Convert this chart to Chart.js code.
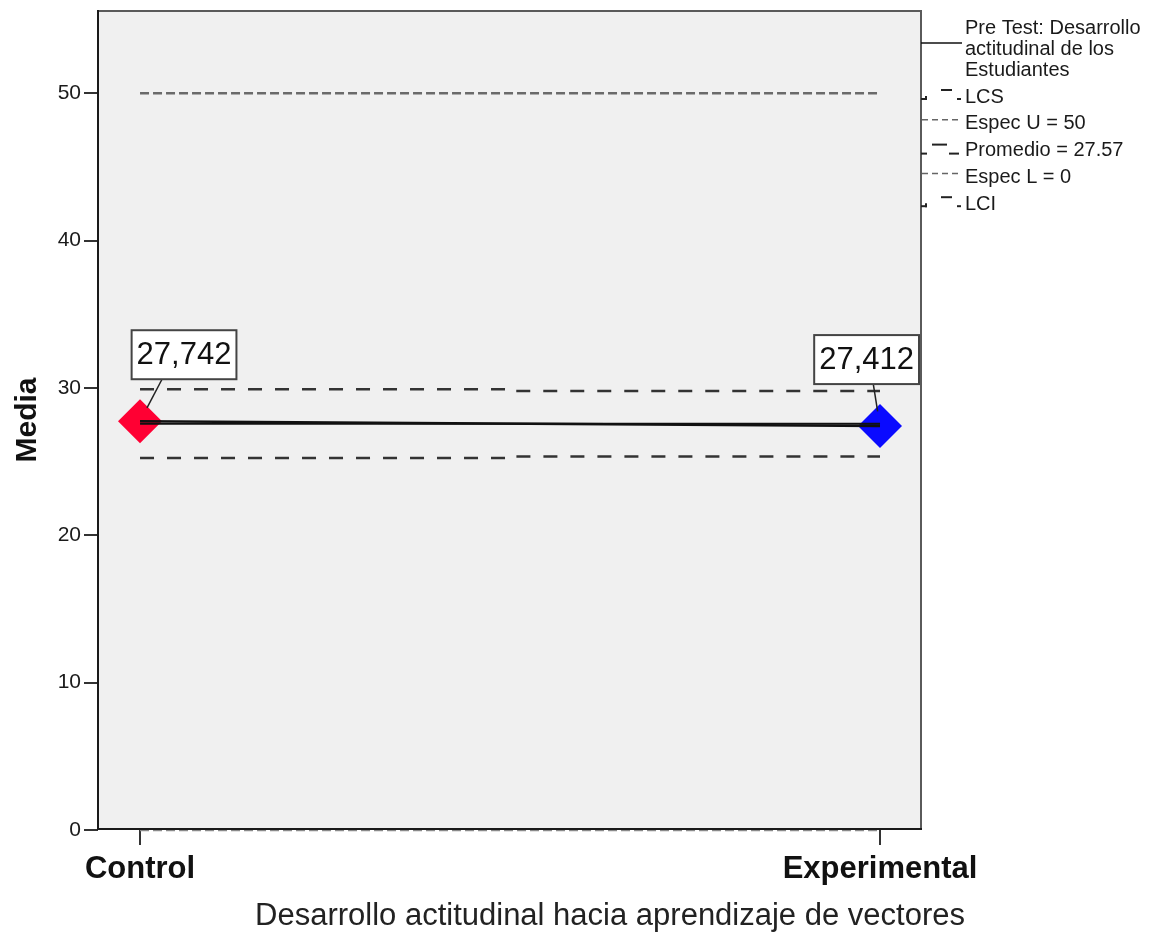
<!DOCTYPE html>
<html>
<head>
<meta charset="utf-8">
<script src="https://cdn.jsdelivr.net/npm/chart.js@4.4.1/dist/chart.umd.min.js"></script>
<style>
  html, body { margin: 0; padding: 0; background: #ffffff; }
  #wrap { width: 1166px; height: 932px; }
</style>
</head>
<body>
<div id="wrap"><canvas id="c" width="1166" height="932"></canvas></div>
<script>
// Group means and control-chart reference lines
const categories = ['Control', 'Experimental'];
const groupMeans = [27.742, 27.412];
const upperLimits = [29.92, 29.80];   // LCS
const lowerLimits = [25.24, 25.35];   // LCI
const centerLine = [27.57, 27.57];    // Promedio
const specUpper = [50, 50];
const specLower = [0, 0];
const yTicks = [0, 10, 20, 30, 40, 50];
const markerColors = ['#ff0033', '#0a0aff'];
const seriesName = ['Pre Test: Desarrollo', 'actitudinal de los', 'Estudiantes'];
const xTitle = 'Desarrollo actitudinal hacia aprendizaje de vectores';
const yTitle = 'Media';

const FONT = '"Liberation Sans", Arial, sans-serif';
const toPoints = arr => arr.map((v, i) => ({ x: i, y: v }));
const fmt = v => v.toFixed(3).replace('.', ',');

const legendEntries = [
  { text: 'LCS', kind: 'step' },
  { text: 'Espec U = ' + specUpper[0], kind: 'spec' },
  { text: 'Promedio = ' + centerLine[0], kind: 'mean' },
  { text: 'Espec L = ' + specLower[0], kind: 'spec' },
  { text: 'LCI', kind: 'step' }
];

function seg(ctx, x1, y1, x2, y2) {
  ctx.beginPath(); ctx.moveTo(x1, y1); ctx.lineTo(x2, y2); ctx.stroke();
}

const decorations = {
  id: 'decorations',
  beforeDraw(chart) {
    const { ctx, chartArea: a } = chart;
    ctx.save();
    ctx.fillStyle = '#f0f0f0';
    ctx.fillRect(a.left, a.top, a.right - a.left, a.bottom - a.top);
    ctx.strokeStyle = '#5a5a5a';
    ctx.lineWidth = 2;
    seg(ctx, a.left, a.top + 1, a.right, a.top + 1);
    seg(ctx, a.right, a.top, a.right, a.bottom);
    ctx.restore();
  },
  afterDatasetsDraw(chart) {
    const { ctx, chartArea: a } = chart;
    ctx.save();
    ctx.strokeStyle = '#1a1a1a';
    ctx.lineWidth = 2;
    seg(ctx, a.left, a.top, a.left, a.bottom);
    seg(ctx, a.left - 1, a.bottom - 1, a.right + 1, a.bottom - 1);
    ctx.restore();
  },
  afterDraw(chart) {
    const { ctx, chartArea: a, scales } = chart;
    ctx.save();

    // value labels with leader lines
    ctx.font = '31px ' + FONT;
    ctx.textBaseline = 'middle';
    ctx.textAlign = 'center';
    groupMeans.forEach((v, i) => {
      const px = scales.x.getPixelForValue(i);
      const py = scales.y.getPixelForValue(v);
      const txt = fmt(v);
      const w = ctx.measureText(txt).width + 10;
      const h = 49;
      let cx = px + 44;
      if (cx + w / 2 > a.right - 2) cx = a.right - 2 - w / 2;
      const left = cx - w / 2, top = py - 91;
      // leader
      const sx = (cx + px) / 2, sy = top + h;
      const dx = px - sx, dy = py - sy;
      const len = Math.hypot(dx, dy);
      const ex = px - dx / len * 15, ey = py - dy / len * 15;
      ctx.strokeStyle = '#222';
      ctx.lineWidth = 1.5;
      seg(ctx, sx, sy, ex, ey);
      ctx.fillStyle = '#ffffff';
      ctx.fillRect(left, top, w, h);
      ctx.strokeStyle = '#444';
      ctx.lineWidth = 2;
      ctx.strokeRect(left, top, w, h);
      ctx.fillStyle = '#111';
      ctx.fillText(txt, cx, top + h / 2 + 1);
    });

    // x axis title
    ctx.font = '31px ' + FONT;
    ctx.textAlign = 'center';
    ctx.textBaseline = 'alphabetic';
    ctx.fillStyle = '#222';
    ctx.fillText(xTitle, 610, 925);

    // legend
    const lx = 921, tx = 965;
    ctx.font = '20px ' + FONT;
    ctx.textAlign = 'left';
    ctx.textBaseline = 'middle';
    ctx.fillStyle = '#1a1a1a';
    seriesName.forEach((s, k) => ctx.fillText(s, tx, 28 + k * 21));
    ctx.strokeStyle = '#111';
    ctx.lineWidth = 1.5;
    seg(ctx, lx, 43, 962, 43);
    legendEntries.forEach((e, k) => {
      const cy = 97 + k * 26.8;
      ctx.fillStyle = '#1a1a1a';
      ctx.fillText(e.text, tx, cy);
      ctx.setLineDash([]);
      if (e.kind === 'step') {
        ctx.strokeStyle = '#222'; ctx.lineWidth = 2;
        seg(ctx, lx, cy + 2, 927, cy + 2);
        seg(ctx, 926, cy + 3, 926, cy - 1);
        seg(ctx, 941, cy - 7, 952, cy - 7);
        seg(ctx, 957, cy + 2, 961, cy + 2);
      } else if (e.kind === 'mean') {
        ctx.strokeStyle = '#222'; ctx.lineWidth = 2;
        seg(ctx, lx, cy + 3, 927, cy + 3);
        seg(ctx, 932, cy - 6, 947, cy - 6);
        seg(ctx, 949, cy + 3, 959, cy + 3);
      } else {
        ctx.strokeStyle = '#666'; ctx.lineWidth = 1.5;
        ctx.setLineDash([6, 4]);
        seg(ctx, lx + 1, cy - 4, 962, cy - 4);
        ctx.setLineDash([]);
      }
    });
    ctx.restore();
  }
};

const refLine = (data, color, width, dash, order, extra) => Object.assign({
  data: toPoints(data),
  borderColor: color,
  borderWidth: width,
  borderDash: dash,
  pointRadius: 0,
  fill: false,
  order: order
}, extra || {});

new Chart(document.getElementById('c'), {
  type: 'line',
  data: {
    datasets: [
      // connecting line of group means (on top of markers)
      refLine(groupMeans, '#111111', 2.5, [], 1),
      refLine(centerLine, '#111111', 2, [], 2, { stepped: 'middle' }),
      refLine(upperLimits, '#333333', 2.5, [14, 13], 3, { stepped: 'middle' }),
      refLine(lowerLimits, '#333333', 2.5, [14, 13], 3, { stepped: 'middle' }),
      refLine(specUpper, '#6a6a6a', 2.5, [9, 4], 4),
      refLine(specLower, '#8a8a8a', 2.5, [9, 4], 4, { clip: false }),
      {
        data: toPoints(groupMeans),
        showLine: false,
        pointStyle: 'rectRot',
        pointRadius: 22,
        pointBorderWidth: 0,
        pointBackgroundColor: markerColors,
        pointBorderColor: markerColors,
        order: 10
      }
    ]
  },
  options: {
    responsive: false,
    animation: false,
    events: [],
    layout: { autoPadding: false, padding: { top: 10, right: 245, left: 0, bottom: 0 } },
    plugins: { legend: { display: false }, tooltip: { enabled: false } },
    scales: {
      x: {
        type: 'linear',
        min: -0.0568,
        max: 1.0554,
        afterBuildTicks: s => { s.ticks = categories.map((c, i) => ({ value: i })); },
        afterFit: s => { s.height = 102; s.paddingLeft = 0; s.paddingRight = 0; },
        grid: { display: true, drawOnChartArea: false, drawTicks: true, tickLength: 15, color: '#333', lineWidth: 2 },
        border: { display: false },
        ticks: {
          callback: v => categories[v],
          autoSkip: false, maxRotation: 0, padding: 6,
          color: '#111',
          font: { family: FONT, size: 31, weight: 'bold' }
        }
      },
      y: {
        type: 'linear',
        min: 0,
        max: 55.65,
        afterBuildTicks: s => { s.ticks = yTicks.map(v => ({ value: v })); },
        afterFit: s => { s.width = 98; s.paddingTop = 0; s.paddingBottom = 0; },
        grid: { display: true, drawOnChartArea: false, drawTicks: true, tickLength: 14, color: '#333', lineWidth: 2 },
        border: { display: false },
        ticks: { padding: 3, color: '#1a1a1a', font: { family: FONT, size: 21 } },
        title: {
          display: true, text: yTitle, color: '#111',
          font: { family: FONT, size: 30, weight: 'bold' },
          padding: { top: 10, bottom: 0 }
        }
      }
    }
  },
  plugins: [decorations]
});
</script>
</body>
</html>
